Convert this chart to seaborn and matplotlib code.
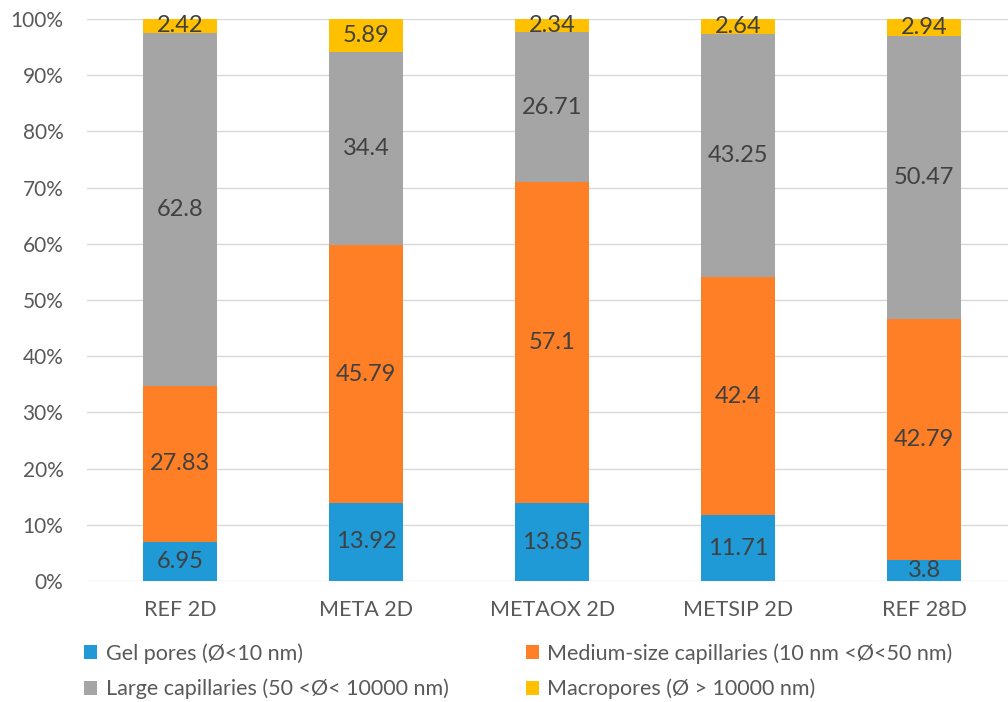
import numpy as np
import pandas as pd
import matplotlib
matplotlib.use("Agg")
import matplotlib.pyplot as plt
import seaborn as sns
from matplotlib.patches import Patch

samples = ["REF 2D", "META 2D", "METAOX 2D", "METSIP 2D", "REF 28D"]
gel_pores = [6.95, 13.92, 13.85, 11.71, 3.8]
medium_capillaries = [27.83, 45.79, 57.1, 42.4, 42.79]
large_capillaries = [62.8, 34.4, 26.71, 43.25, 50.47]
macropores = [2.42, 5.89, 2.34, 2.64, 2.94]

series_names = [
    "Gel pores (Ø<10 nm)",
    "Medium-size capillaries (10 nm <Ø<50 nm)",
    "Large capillaries (50 <Ø< 10000 nm)",
    "Macropores (Ø > 10000 nm)",
]
series_values = [gel_pores, medium_capillaries, large_capillaries, macropores]
colors = ["#1F9AD6", "#FF7F27", "#A5A5A5", "#FFC000"]

sns.set_theme(style="white")
plt.rcParams["font.family"] = ["Lato", "DejaVu Sans"]

fig = plt.figure(figsize=(10.08, 7.02), dpi=100)
ax = fig.add_axes([87 / 1008, 1 - 581 / 702, (1008 - 87) / 1008, (581 - 19) / 702])

df = pd.DataFrame({"sample": samples})
bottom = np.zeros(len(samples))
for name, vals, col in zip(series_names, series_values, colors):
    vals = np.asarray(vals, dtype=float)
    df["value"] = vals
    sns.barplot(data=df, x="sample", y="value", color=col, width=0.4,
                bottom=bottom, ax=ax, saturation=1, linewidth=0, zorder=3)
    for i, v in enumerate(vals):
        ax.text(i, bottom[i] + v / 2, f"{v:g}", ha="center", va="center",
                fontsize=17, color="#404040", zorder=4)
    bottom = bottom + vals

ax.set_ylim(0, 100)
ax.set_xlim(-0.5, 4.45)
ax.set_yticks(np.arange(0, 101, 10))
ax.set_yticklabels([f"{t}%" for t in range(0, 101, 10)])
ax.yaxis.grid(True, color="#D9D9D9", linewidth=1, zorder=0)
ax.set_axisbelow(True)
for s in ax.spines.values():
    s.set_visible(False)
ax.set_xlabel("")
ax.set_ylabel("")
ax.tick_params(axis="x", length=0, labelsize=15.5, labelcolor="#595959", pad=14)
ax.tick_params(axis="y", length=0, labelsize=15, labelcolor="#595959", pad=17)

# two legend columns, filled top-to-bottom
order = [0, 2, 1, 3]
handles = [Patch(facecolor=colors[k], edgecolor="none") for k in order]
labels = [series_names[k] for k in order]
fig.legend(handles, labels, ncol=2, loc="upper left",
           bbox_to_anchor=(84 / 1008, 1 - 643 / 702), frameon=False, borderpad=0,
           borderaxespad=0, fontsize=15.5, labelcolor="#595959",
           handlelength=0.6, handleheight=0.6, handletextpad=0.4,
           columnspacing=3.6, labelspacing=0.7)

fig.savefig("out.png", dpi=100, facecolor="white")
